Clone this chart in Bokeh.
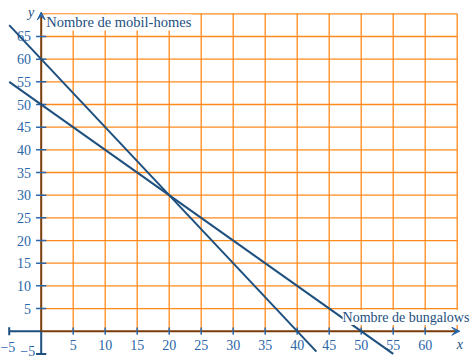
from bokeh.plotting import figure
from bokeh.models import Range1d, Arrow, VeeHead
from bokeh.core.properties import value
from bokeh.embed import file_html
from bokeh.resources import INLINE

# Data
grid_x = [5, 10, 15, 20, 25, 30, 35, 40, 45, 50, 55, 60, 65]
grid_y = [5, 10, 15, 20, 25, 30, 35, 40, 45, 50, 55, 60, 65, 70]
x_ticks = [5, 10, 15, 20, 25, 30, 35, 40, 45, 50, 55, 60]
y_ticks = [5, 10, 15, 20, 25, 30, 35, 40, 45, 50, 55, 60, 65]
x_tick_labels = [str(v) for v in x_ticks]
y_tick_labels = [str(v) for v in y_ticks]
grid_xmax = 65
grid_ymax = 70
axis_min = -5

# line 1: y = 60 - 1.5 x   (through (0,60) and (40,0))
line1_x = [-5, 43]
line1_y = [67.5, -4.5]
# line 2: y = 50 - x   (through (0,50) and (50,0))
line2_x = [-5, 55]
line2_y = [55, -5]

ORANGE = "#ff8a1c"
NAVY = "#1d4f7f"
BLUE = "#2a66a8"
BROWN = "#7a3d08"
SERIF = "Liberation Serif"

p = figure(width=472, height=358, output_backend="svg", toolbar_location=None,
           x_range=Range1d(-6.36, 67.39), y_range=Range1d(-6.02, 72.94),
           min_border=0, outline_line_color=None)
p.axis.visible = False
p.grid.visible = False

# grid
p.segment(x0=grid_x, y0=[0]*len(grid_x), x1=grid_x, y1=[grid_ymax]*len(grid_x),
          line_color=ORANGE, line_width=1.3)
p.segment(x0=[0]*len(grid_y), y0=grid_y, x1=[grid_xmax]*len(grid_y), y1=grid_y,
          line_color=ORANGE, line_width=1.3)

# axes
p.segment(x0=[axis_min, 0], y0=[0, 0], x1=[0, grid_xmax], y1=[0, 0],
          line_color=[NAVY, BROWN], line_width=2)
p.segment(x0=[0, 0], y0=[axis_min, 0], x1=[0, 0], y1=[0, grid_ymax],
          line_color=[NAVY, BROWN], line_width=2)
p.add_layout(Arrow(end=VeeHead(size=8, line_color=BLUE, fill_color=BLUE, line_width=1),
                   x_start=60, y_start=0, x_end=grid_xmax + 0.4, y_end=0,
                   line_alpha=0))
p.add_layout(Arrow(end=VeeHead(size=8, line_color=BLUE, fill_color=BLUE, line_width=1),
                   x_start=0, y_start=65, x_end=0, y_end=grid_ymax + 0.4,
                   line_alpha=0))

# tick marks
p.segment(x0=x_ticks, y0=[-0.8]*len(x_ticks), x1=x_ticks, y1=[0.8]*len(x_ticks),
          line_color=BLUE, line_width=1.5)
p.segment(x0=[-0.8]*len(y_ticks), y0=y_ticks, x1=[0.8]*len(y_ticks), y1=y_ticks,
          line_color=BLUE, line_width=1.5)
p.segment(x0=[axis_min], y0=[-0.9], x1=[axis_min], y1=[0.9], line_color=NAVY, line_width=2)
p.segment(x0=[-0.8], y0=[axis_min], x1=[0.8], y1=[axis_min], line_color=NAVY, line_width=2)

# tick labels
p.text(x=x_ticks, y=[-2.0]*len(x_ticks), text=x_tick_labels, text_align="center",
       text_baseline="top", text_color=BLUE, text_font=value(SERIF), text_font_size="14px")
p.text(x=[-1.6]*len(y_ticks), y=y_ticks, text=y_tick_labels, text_align="right",
       text_baseline="middle", text_color=BLUE, text_font=value(SERIF), text_font_size="14px")
p.text(x=[-5.2], y=[-3.5], text=["\u22125"], text_align="center", text_baseline="middle",
       text_color=BLUE, text_font=value(SERIF), text_font_size="14px")
p.text(x=[-2.1], y=[-4.35], text=["\u22125"], text_align="center", text_baseline="middle",
       text_color=BLUE, text_font=value(SERIF), text_font_size="14px")

# axis names
p.text(x=[65.4], y=[-1.2], text=["x"], text_align="center", text_baseline="top",
       text_color=NAVY, text_font=value(SERIF), text_font_style="italic", text_font_size="14px")
p.text(x=[-1.1], y=[70.3], text=["y"], text_align="right", text_baseline="middle",
       text_color=NAVY, text_font=value(SERIF), text_font_style="italic", text_font_size="14px")

# lines
p.line(line1_x, line1_y, line_color=NAVY, line_width=2)
p.line(line2_x, line2_y, line_color=NAVY, line_width=2)

# labels
p.text(x=[0.8], y=[68.1], text=["Nombre de mobil-homes"], text_align="left",
       text_baseline="middle", text_color=NAVY, text_font=value(SERIF), text_font_size="14.5px",
       background_fill_color="white")
p.text(x=[66.9], y=[3.0], text=["Nombre de bungalows"], text_align="right",
       text_baseline="middle", text_color=NAVY, text_font=value(SERIF), text_font_size="14px",
       background_fill_color="white")

open("out.html", "w").write(file_html(p, INLINE))
